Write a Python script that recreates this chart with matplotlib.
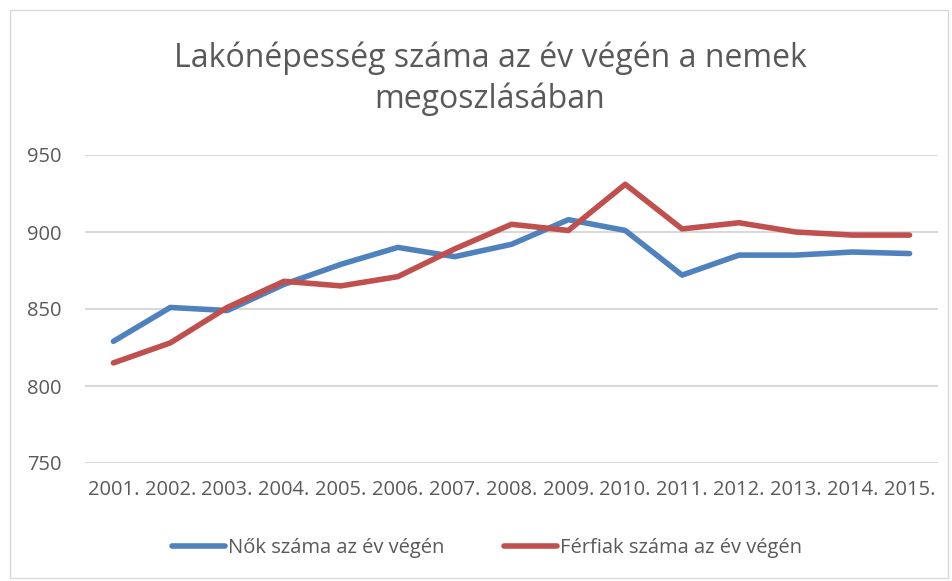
import matplotlib.pyplot as plt
from matplotlib.patches import Rectangle

years = ["2001.", "2002.", "2003.", "2004.", "2005.", "2006.", "2007.", "2008.",
         "2009.", "2010.", "2011.", "2012.", "2013.", "2014.", "2015."]
nok = [829, 851, 849, 866, 879, 890, 884, 892, 908, 901, 872, 885, 885, 887, 886]
ferfiak = [815, 828, 851, 868, 865, 871, 889, 905, 901, 931, 902, 906, 900, 898, 898]

plt.rcParams['font.family'] = ['Open Sans', 'DejaVu Sans']
grey = "#595959"

fig = plt.figure(figsize=(9.52, 5.81), dpi=100)
fig.patches.append(Rectangle((10 / 952, 3 / 581), 938 / 952, 568 / 581, transform=fig.transFigure,
                             fill=False, edgecolor="#d9d9d9", linewidth=1))
ax = fig.add_axes([85 / 952, 1 - 463 / 581, 853 / 952, 308 / 581])

x = range(len(years))
ax.plot(x, nok, color="#4f81bd", linewidth=4, solid_capstyle="round", label="Nők száma az év végén")
ax.plot(x, ferfiak, color="#c0504d", linewidth=4, solid_capstyle="round", label="Férfiak száma az év végén")

ax.set_xlim(-0.5, len(years) - 0.5)
ax.set_ylim(750, 950)
ax.set_yticks([750, 800, 850, 900, 950])
ax.set_xticks(list(x))
ax.set_xticklabels(years)
ax.grid(axis="y", color="#d9d9d9", linewidth=1.5)
ax.set_axisbelow(True)
for s in ax.spines.values():
    s.set_visible(False)
ax.tick_params(length=0, labelsize=14.5, colors=grey)
ax.tick_params(axis="x", pad=12)
ax.tick_params(axis="y", pad=17)

fig.text(490 / 952, 1 - 79 / 581, "Lakónépesség száma az év végén a nemek\nmegoszlásában",
         ha="center", va="center", fontsize=23, color=grey, linespacing=1.3)

fig.legend(loc="center", bbox_to_anchor=(487 / 952, 1 - 548 / 581), ncol=2, frameon=False,
           fontsize=14.5, labelcolor=grey, handlelength=2.6, handletextpad=0.15, columnspacing=3.0)

fig.savefig("out.png", dpi=100)
